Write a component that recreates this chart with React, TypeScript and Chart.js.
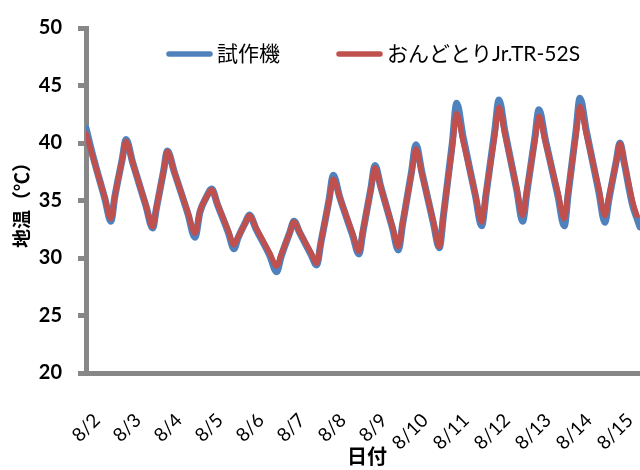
import React, { useEffect, useRef } from "react";
import { Chart, registerables } from "chart.js";

Chart.register(...registerables);

// Date labels on the x axis, one per day (tick value = days since 8/2 00:00)
const dateLabels = ["8/2", "8/3", "8/4", "8/5", "8/6", "8/7", "8/8", "8/9", "8/10", "8/11", "8/12", "8/13", "8/14", "8/15"];
const dayTicks = [0, 1, 2, 3, 4, 5, 6, 7, 8, 9, 10, 11, 12, 13];

// Visible time window, in days since 8/2 00:00
const xStart = -0.268;
const xEnd = 13.44;

// Sample times (days since 8/2 00:00)
const sampleDays = [
  -0.268, -0.116, 0.189, 0.341, 0.433, 0.616, 0.707, 0.87, 1.196, 1.359,
  1.448, 1.626, 1.715, 1.884, 2.221, 2.39, 2.512, 2.655, 2.798, 2.934,
  3.205, 3.341, 3.435, 3.621, 3.715, 3.882, 4.216, 4.383, 4.489, 4.7,
  4.805, 4.944, 5.221, 5.359, 5.46, 5.662, 5.763, 5.92, 6.233, 6.39,
  6.488, 6.683, 6.78, 6.922, 7.207, 7.349, 7.458, 7.672, 7.78, 7.922,
  8.207, 8.349, 8.455, 8.667, 8.773, 8.926, 9.231, 9.383, 9.489, 9.7,
  9.805, 9.95, 10.239, 10.383, 10.482, 10.681, 10.78, 10.935, 11.244, 11.398,
  11.494, 11.685, 11.78, 11.933, 12.238, 12.39, 12.482, 12.665, 12.756, 12.859,
  13.064, 13.166, 13.244,
];

// 試作機 (prototype sensor), soil temperature °C
const prototypeTemps = [
  41.3, 39.1, 35.2, 33.2, 35.3, 38.6, 40.3, 38.3, 34.5, 32.6,
  34.3, 37.6, 39.3, 37.5, 33.8, 31.8, 34.0, 35.2, 36.0, 34.7,
  32.2, 30.8, 31.7, 33.1, 33.75, 32.5, 30.2, 28.8, 30.1, 32.2,
  33.2, 32.2, 30.3, 29.4, 31.3, 35.1, 37.2, 35.3, 32.0, 30.35,
  32.3, 36.1, 38.05, 36.2, 32.6, 30.7, 33.0, 37.5, 39.85, 37.5,
  33.0, 30.9, 33.8, 40.0, 43.45, 40.6, 35.4, 32.8, 35.5, 41.0,
  43.75, 41.0, 35.9, 33.2, 35.6, 40.5, 42.9, 40.3, 35.4, 32.8,
  35.6, 41.1, 43.9, 41.1, 35.8, 33.1, 35.0, 38.4, 40.0, 38.3,
  34.6, 33.5, 32.7,
];

// おんどとりJr.TR-52S (reference logger), soil temperature °C
const ondotoriTemps = [
  40.8, 38.96, 35.27, 33.43, 35.3, 38.6, 40.13, 38.28, 34.56, 32.72,
  34.36, 37.63, 39.27, 37.49, 33.93, 32.15, 34.1, 35.2, 35.94, 34.74,
  32.35, 31.15, 31.79, 33.06, 33.7, 32.6, 30.4, 29.3, 30.26, 32.19,
  33.15, 32.25, 30.44, 29.53, 31.36, 35.02, 36.85, 35.28, 32.15, 30.58,
  32.4, 36.03, 37.85, 36.14, 32.71, 31.0, 33.12, 37.35, 39.47, 37.35,
  33.12, 31.0, 33.89, 39.66, 42.55, 40.2, 35.5, 33.15, 35.64, 40.61,
  43.1, 40.75, 36.05, 33.7, 35.86, 40.17, 42.32, 40.1, 35.65, 33.43,
  35.87, 40.74, 43.18, 40.81, 36.07, 33.7, 35.26, 38.37, 39.93, 38.37,
  34.9, 33.7, null,
];

const AXIS_GRAY = "#878787";
const BLUE = "#4F81BD";
const RED = "#C0504D";
const LATIN_CJK = "Lato, 'Noto Sans CJK JP', sans-serif";

// Legend drawn inside the plot area, near the top
const inlineLegend = {
  id: "inlineLegend",
  afterDatasetsDraw(chart: any) {
    const { ctx, chartArea } = chart;
    const lineLen = 45;
    const gap = 5;
    const itemGap = 57;
    ctx.save();
    ctx.font = `21px ${LATIN_CJK}`;
    let x = chartArea.left + 81;
    const y = chartArea.top + 26;
    ctx.textBaseline = "middle";
    ctx.textAlign = "left";
    for (const ds of chart.data.datasets as any[]) {
      const text = ds.label as string;
      ctx.strokeStyle = ds.borderColor;
      ctx.lineWidth = 5.5;
      ctx.lineCap = "round";
      ctx.beginPath();
      ctx.moveTo(x + 2, y);
      ctx.lineTo(x + lineLen - 2, y);
      ctx.stroke();
      ctx.fillStyle = "#000";
      ctx.fillText(text, x + lineLen + gap, y);
      x += lineLen + gap + ctx.measureText(text).width + itemGap;
    }
    ctx.restore();
  },
};

export default function App() {
  const canvasRef = useRef<HTMLCanvasElement | null>(null);

  useEffect(() => {
    if (!canvasRef.current) return;
    const toPoints = (vals: (number | null)[]) => sampleDays.map((d, i) => ({ x: d, y: vals[i] }));

    const chart = new Chart(canvasRef.current, {
      type: "line",
      data: {
        datasets: [
          {
            label: "試作機",
            data: toPoints(prototypeTemps) as any,
            borderColor: BLUE,
            backgroundColor: BLUE,
            borderWidth: 7,
            pointRadius: 0,
            cubicInterpolationMode: "monotone",
            borderJoinStyle: "round",
            borderCapStyle: "round",
            order: 2,
          },
          {
            label: "おんどとりJr.TR-52S",
            data: toPoints(ondotoriTemps) as any,
            borderColor: RED,
            backgroundColor: RED,
            borderWidth: 5.5,
            pointRadius: 0,
            cubicInterpolationMode: "monotone",
            borderJoinStyle: "round",
            borderCapStyle: "round",
            order: 1,
          },
        ],
      },
      options: {
        animation: false,
        responsive: true,
        maintainAspectRatio: false,
        layout: { padding: { top: 22, right: 0, bottom: 0, left: 0 } },
        plugins: {
          legend: { display: false },
          tooltip: { enabled: false },
        },
        scales: {
          x: {
            type: "linear",
            min: xStart,
            max: xEnd,
            afterBuildTicks: (scale: any) => {
              scale.ticks = dayTicks.map((v) => ({ value: v }));
            },
            afterFit: (scale: any) => {
              scale.height = 97;
              scale.paddingLeft = 0;
              scale.paddingRight = 0;
            },
            ticks: {
              autoSkip: false,
              minRotation: 45,
              maxRotation: 45,
              padding: 36,
              color: "#000",
              font: { family: LATIN_CJK, size: 19 },
              callback: (value: any) => {
                const i = dayTicks.indexOf(Number(value));
                return i >= 0 ? dateLabels[i] : "";
              },
            },
            grid: { display: false, drawTicks: false },
            border: { display: true, color: AXIS_GRAY, width: 5 },
            title: {
              display: true,
              text: "日付",
              color: "#000",
              font: { family: LATIN_CJK, size: 20, weight: "bold" },
              padding: { top: 0, bottom: 0 },
            },
          },
          y: {
            min: 20,
            max: 50,
            afterFit: (scale: any) => {
              scale.width = 86;
            },
            ticks: {
              stepSize: 5,
              padding: 16,
              color: "#000",
              font: { family: LATIN_CJK, size: 20, weight: "bold" },
            },
            grid: {
              drawOnChartArea: false,
              drawTicks: true,
              tickLength: 8,
              tickWidth: 5,
              tickColor: AXIS_GRAY,
            },
            border: { display: true, color: AXIS_GRAY, width: 5 },
            title: {
              display: true,
              text: "地温（℃）",
              color: "#000",
              font: { family: LATIN_CJK, size: 19, weight: "bold" },
              padding: { top: 11, bottom: 0 },
            },
          },
        },
      },
      plugins: [inlineLegend],
    });

    return () => chart.destroy();
  }, []);

  return (
    <div
      style={{
        position: "fixed",
        left: 0,
        top: 0,
        width: 640,
        height: 470,
        overflow: "hidden",
        background: "#fff",
      }}
    >
      <div style={{ position: "relative", width: 648, height: 470 }}>
        <canvas ref={canvasRef} />
      </div>
    </div>
  );
}
